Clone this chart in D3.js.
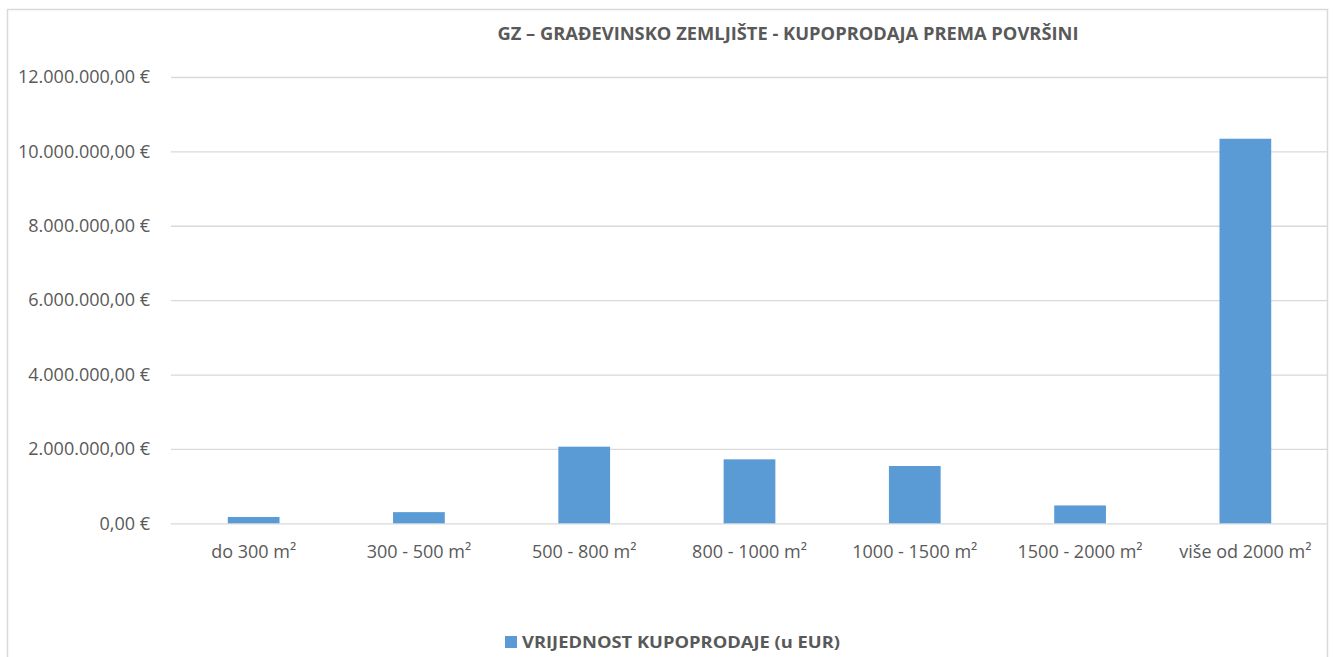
<!DOCTYPE html>
<html>
<head>
<meta charset="utf-8">
<script src="https://cdn.jsdelivr.net/npm/d3@7"></script>
<style>
  body { margin: 0; background: #fff; }
  text { font-family: "Open Sans", "Noto Sans", sans-serif; fill: #595959; }
</style>
</head>
<body>
<div id="chart"></div>
<script>
// data
const categories = ["do 300 m²", "300 - 500 m²", "500 - 800 m²", "800 - 1000 m²", "1000 - 1500 m²", "1500 - 2000 m²", "više od 2000 m²"];
const values = [170000, 300000, 2060000, 1720000, 1540000, 480000, 10340000];
const yTicks = [0, 2000000, 4000000, 6000000, 8000000, 10000000, 12000000];
const chartTitle = "GZ – GRAĐEVINSKO ZEMLJIŠTE - KUPOPRODAJA PREMA POVRŠINI";
const seriesName = "VRIJEDNOST KUPOPRODAJE (u EUR)";

const width = 1333, height = 657;
const plot = {left: 171, right: 1328, top: 77, bottom: 523.3};

let svg = d3.select("#chart").append("svg")
    .attr("width", width)
    .attr("height", height);

// outer chart frame
svg.append("rect")
    .attr("x", 7.5).attr("y", 9.5)
    .attr("width", 1320).attr("height", 700)
    .attr("fill", "none")
    .attr("stroke", "#d9d9d9")
    .attr("stroke-width", 1.5);

let x = d3.scaleBand()
    .domain(categories)
    .range([plot.left, plot.right])
    .paddingInner(0.687)
    .paddingOuter(0.3435);

let y = d3.scaleLinear()
    .domain([0, 12000000])
    .range([plot.bottom, plot.top]);

let fmt = function(d){
    let s = d3.format(",.2f")(d);
    s = s.replace(/,/g, "#").replace(".", ",").replace(/#/g, ".");
    return s + " €";
};

// gridlines + y labels
let yAxis = d3.axisLeft(y)
    .tickValues(yTicks)
    .tickSize(-(plot.right - plot.left))
    .tickPadding(21)
    .tickFormat(fmt);

let gy = svg.append("g")
    .attr("transform", "translate(" + plot.left + ",0)")
    .call(yAxis);
gy.select(".domain").remove();
gy.selectAll(".tick line")
    .attr("stroke", "#d9d9d9")
    .attr("stroke-width", 1.3);
gy.selectAll(".tick text")
    .style("font-size", "18px")
    .style("fill", "#595959")
    .style("font-family", "'Open Sans', sans-serif");

// bars
svg.selectAll(".bar")
    .data(values)
    .enter()
    .append("rect")
    .attr("class", "bar")
    .attr("x", function(d, i){ return x(categories[i]); })
    .attr("y", function(d){ return y(d); })
    .attr("width", x.bandwidth())
    .attr("height", function(d){ return y(0) - y(d); })
    .attr("fill", "#5b9bd5");

// category labels
let xAxis = d3.axisBottom(x).tickSize(0).tickPadding(18);
let gx = svg.append("g")
    .attr("transform", "translate(0," + plot.bottom + ")")
    .call(xAxis);
gx.select(".domain").remove();
gx.selectAll(".tick text")
    .attr("dy", null)
    .attr("y", 35)
    .style("font-size", "18px")
    .style("fill", "#595959")
    .style("font-family", "'Open Sans', sans-serif");

// title
svg.append("text")
    .attr("x", 788)
    .attr("y", 39.5)
    .attr("text-anchor", "middle")
    .attr("textLength", 581)
    .attr("lengthAdjust", "spacingAndGlyphs")
    .style("font-size", "17px")
    .style("font-weight", "bold")
    .text(chartTitle);

// legend
let lg = svg.append("g");
lg.append("rect")
    .attr("x", 505).attr("y", 636)
    .attr("width", 12).attr("height", 12)
    .attr("fill", "#5b9bd5");
lg.append("text")
    .attr("x", 522)
    .attr("y", 648)
    .attr("textLength", 318)
    .attr("lengthAdjust", "spacingAndGlyphs")
    .style("font-size", "16px")
    .style("font-weight", "bold")
    .text(seriesName);
</script>
</body>
</html>
